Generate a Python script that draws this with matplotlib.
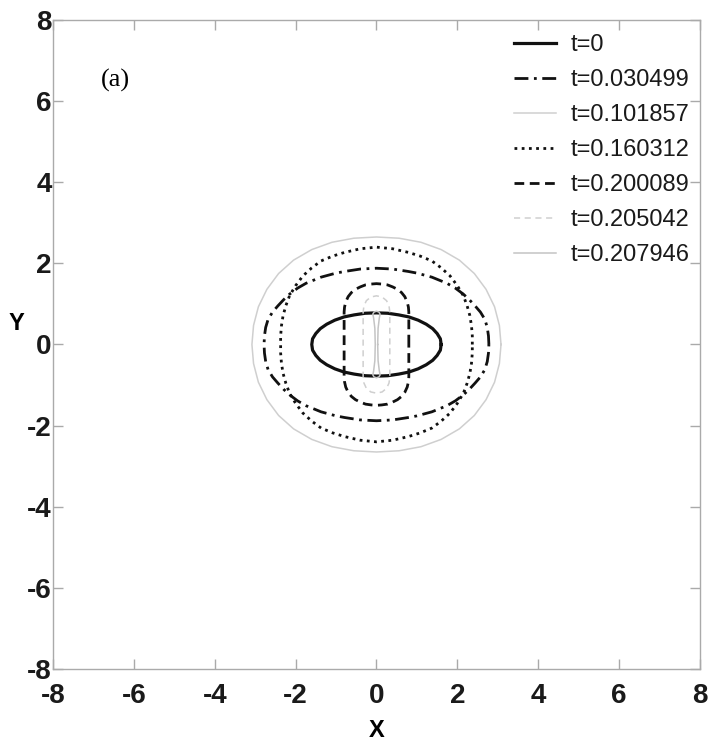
import numpy as np
import matplotlib
matplotlib.use('Agg')
import matplotlib.pyplot as plt

plt.rcParams['axes.unicode_minus'] = False

# interface outlines at each time, first quadrant only (the shapes are symmetric in x and y)
times = ['t=0', 't=0.030499', 't=0.101857', 't=0.160312', 't=0.200089', 't=0.205042', 't=0.207946']

qx_t0 = [1.60, 1.58, 1.50, 1.39, 1.23, 1.03, 0.80, 0.55, 0.28, 0.0]
qy_t0 = [0.0, 0.14, 0.27, 0.39, 0.50, 0.60, 0.68, 0.73, 0.77, 0.78]

qx_t1 = [2.78, 2.77, 2.74, 2.68, 2.57, 2.44, 2.30, 2.15, 1.95, 1.74, 1.37, 1.00, 0.79, 0.40, 0.0]
qy_t1 = [0.0, 0.21, 0.42, 0.62, 0.80, 0.95, 1.10, 1.24, 1.39, 1.51, 1.66, 1.76, 1.80, 1.86, 1.88]

qx_t2 = [3.08, 3.04, 2.92, 2.71, 2.42, 2.05, 1.60, 1.10, 0.56, 0.0]
qy_t2 = [0.0, 0.47, 0.93, 1.36, 1.75, 2.08, 2.34, 2.52, 2.62, 2.65]

qx_t3 = [2.37, 2.37, 2.35, 2.31, 2.24, 2.15, 2.00, 1.82, 1.60, 1.37, 1.08, 0.79, 0.40, 0.0]
qy_t3 = [0.0, 0.21, 0.46, 0.71, 0.96, 1.20, 1.45, 1.69, 1.89, 2.06, 2.18, 2.27, 2.36, 2.40]

qx_t4 = [0.80, 0.80, 0.80, 0.79, 0.76, 0.70, 0.62, 0.52, 0.40, 0.27, 0.13, 0.0]
qy_t4 = [0.0, 0.40, 0.80, 0.92, 1.05, 1.18, 1.28, 1.36, 1.42, 1.47, 1.49, 1.50]

qx_t5 = [0.33, 0.33, 0.33, 0.31, 0.25, 0.14, 0.0]
qy_t5 = [0.0, 0.40, 0.80, 0.95, 1.08, 1.17, 1.20]

qx_t6 = [0.03, 0.04, 0.07, 0.09, 0.06, 0.0]
qy_t6 = [0.0, 0.40, 0.65, 0.75, 0.80, 0.82]

quarters = [(qx_t0, qy_t0), (qx_t1, qy_t1), (qx_t2, qy_t2), (qx_t3, qy_t3),
            (qx_t4, qy_t4), (qx_t5, qy_t5), (qx_t6, qy_t6)]

styles = [
    dict(color='#111111', lw=2.3, ls='-'),
    dict(color='#111111', lw=2.0, ls=(0, (5, 2, 1, 2))),
    dict(color='#cfcfcf', lw=1.1, ls='-'),
    dict(color='#111111', lw=2.0, ls=(0, (1, 1.6))),
    dict(color='#111111', lw=2.0, ls=(0, (3.5, 2))),
    dict(color='#cfcfcf', lw=1.1, ls=(0, (4, 3))),
    dict(color='#c4c4c4', lw=1.1, ls='-'),
]


def close_loop(qx, qy):
    #mirror the quarter outline into all four quadrants
    qx = np.asarray(qx)
    qy = np.asarray(qy)
    x = np.concatenate([qx, -qx[::-1], -qx, qx[::-1]])
    y = np.concatenate([qy, qy[::-1], -qy, -qy[::-1]])
    return x, y


fig = plt.figure(figsize=(7.12, 7.43), dpi=100)
ax = fig.add_axes([0.0744, 0.0996, 0.9087, 0.8735])

for label, (qx, qy), st in zip(times, quarters, styles):
    x, y = close_loop(qx, qy)
    ax.plot(x, y, label=label, **st)

ax.set_xlim(-8, 8)
ax.set_ylim(-8, 8)
ax.set_xticks(np.arange(-8, 9, 2))
ax.set_yticks(np.arange(-8, 9, 2))

for s in ax.spines.values():
    s.set_color('#aaaaaa')
    s.set_linewidth(1.0)

ax.tick_params(direction='in', length=7, width=1, color='#aaaaaa',
               top=True, right=True, labelsize=20)
ax.tick_params(axis='x', pad=10)
ax.tick_params(axis='y', pad=1)
for lab in ax.get_xticklabels() + ax.get_yticklabels():
    lab.set_fontweight('bold')
    lab.set_family('Liberation Sans')
    lab.set_color('#1a1a1a')

ax.set_xlabel('X', fontsize=17, fontweight='bold', family='Liberation Sans', va='center')
ax.xaxis.set_label_coords(0.5, -0.0955)
ax.set_ylabel('Y', fontsize=17, fontweight='bold', family='Liberation Sans',
              rotation=0, va='center', ha='center')
ax.yaxis.set_label_coords(-0.056, 0.533)

ax.text(-6.45, 6.5, '(a)', fontsize=19, family='Liberation Serif', ha='center', va='center')

leg = ax.legend(loc='upper right', bbox_to_anchor=(1.002, 0.996), frameon=False,
                borderpad=0, handlelength=1.8, handletextpad=0.6, labelspacing=0.55,
                prop={'family': 'Liberation Sans', 'size': 17})
for t in leg.get_texts():
    t.set_color('#1a1a1a')

fig.savefig('out.png', dpi=100, facecolor='white')
